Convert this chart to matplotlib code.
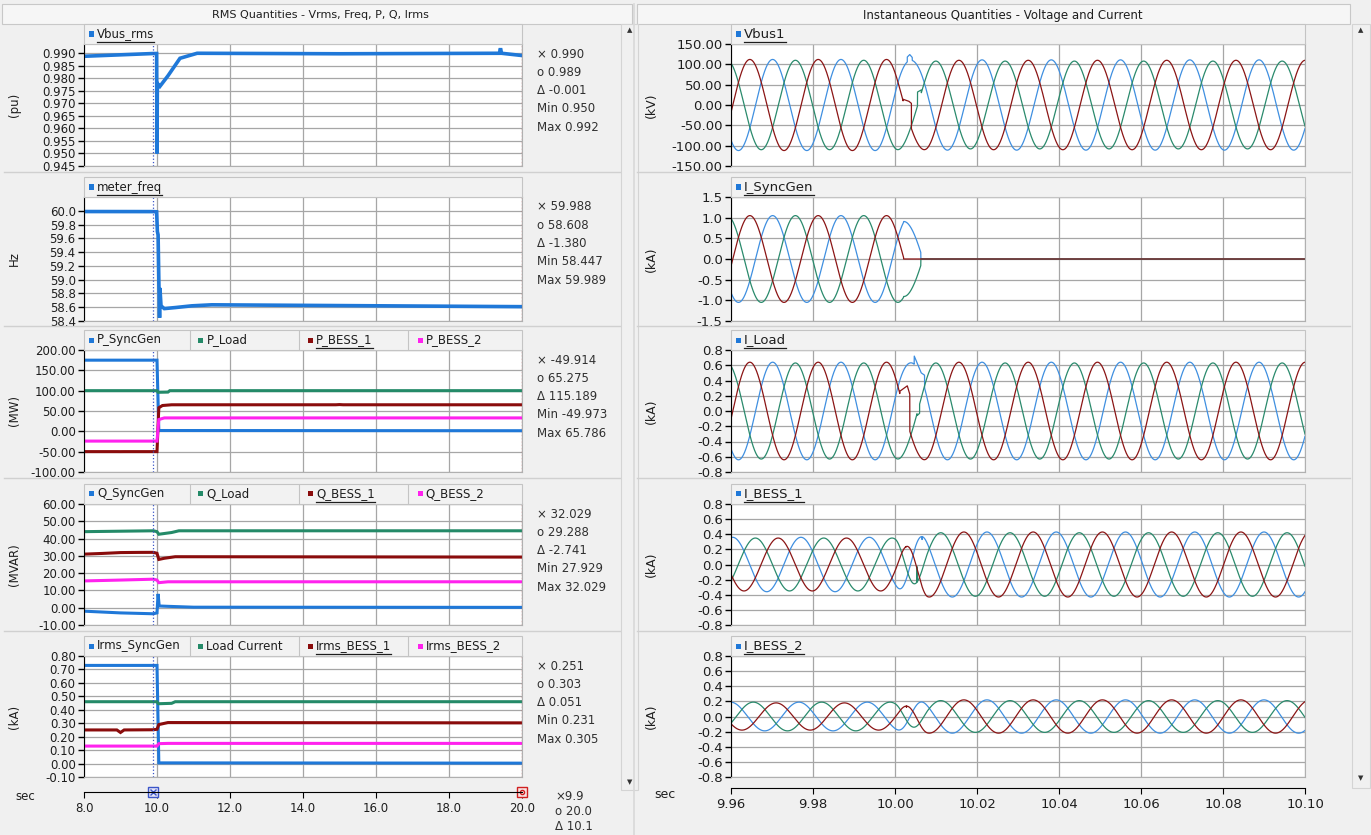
import numpy as np
import matplotlib
matplotlib.use("Agg")
import matplotlib.pyplot as plt
from matplotlib.patches import Rectangle
from matplotlib.lines import Line2D

# ---- RMS traces (time breakpoints in s) ----
t_vbus = [8.0, 9.9, 9.99, 10.0, 10.01, 10.08, 10.3, 10.63, 11.1, 15.0, 19.38, 19.41, 19.44, 20.0]
vbus_rms = [0.9888, 0.9899, 0.9899, 0.950, 0.978, 0.9768, 0.981, 0.988, 0.990, 0.9898, 0.990, 0.992, 0.990, 0.9891]

t_freq = [8.0, 9.9, 9.99, 10.01, 10.03, 10.05, 10.07, 10.08, 10.11, 10.2, 10.5, 10.95, 11.5, 20.0]
meter_freq = [59.989, 59.988, 59.985, 59.70, 59.65, 59.0, 58.447, 58.88, 58.62, 58.58, 58.595, 58.62, 58.635, 58.608]

t_p_sg = [8.0, 10.0, 10.05, 20.0]
p_syncgen = [175.0, 175.0, 2.0, 1.5]
t_p_load = [8.0, 10.0, 10.03, 10.3, 10.35, 20.0]
p_load = [100.0, 100.0, 96.0, 96.5, 100.0, 100.0]
t_p_b1 = [8.0, 8.9, 9.0, 9.1, 9.9, 10.0, 10.05, 10.15, 10.4, 14.9, 15.0, 15.1, 20.0]
p_bess_1 = [-49.9, -49.9, -49.973, -49.9, -49.914, -49.9, 58.0, 63.5, 65.3, 65.3, 65.786, 65.3, 65.275]
t_p_b2 = [8.0, 10.0, 10.05, 10.2, 20.0]
p_bess_2 = [-24.0, -24.0, 29.0, 33.0, 33.0]

t_q_sg = [8.0, 9.0, 9.9, 10.0, 10.03, 10.06, 10.3, 11.0, 20.0]
q_syncgen = [-2.0, -3.0, -3.5, -3.0, 8.0, 1.0, 0.8, 0.3, 0.2]
t_q_load = [8.0, 9.9, 10.0, 10.05, 10.4, 10.6, 20.0]
q_load = [44.0, 44.5, 44.0, 42.5, 43.5, 44.5, 44.5]
t_q_b1 = [8.0, 8.5, 9.0, 9.5, 9.9, 10.0, 10.05, 10.2, 10.5, 20.0]
q_bess_1 = [31.0, 31.4, 31.9, 32.0, 32.029, 31.5, 27.929, 28.6, 29.5, 29.288]
t_q_b2 = [8.0, 9.0, 9.9, 10.0, 10.05, 10.3, 20.0]
q_bess_2 = [15.5, 16.0, 16.5, 16.0, 14.5, 15.0, 15.0]

t_i_sg = [8.0, 10.0, 10.05, 20.0]
irms_syncgen = [0.73, 0.73, 0.005, 0.003]
t_i_load = [8.0, 10.0, 10.04, 10.4, 10.5, 20.0]
load_current = [0.46, 0.46, 0.445, 0.448, 0.46, 0.46]
t_i_b1 = [8.0, 8.9, 9.0, 9.1, 9.9, 10.0, 10.05, 10.3, 20.0]
irms_bess_1 = [0.25, 0.25, 0.231, 0.25, 0.2514, 0.255, 0.29, 0.305, 0.3026]
t_i_b2 = [8.0, 10.0, 10.05, 10.3, 20.0]
irms_bess_2 = [0.13, 0.13, 0.148, 0.15, 0.15]

CURSORS = [9.9, 20.0]
RMS_TICKS = [8.0, 10.0, 12.0, 14.0, 16.0, 18.0, 20.0]

# ---- instantaneous waveforms: phase amplitudes [a, b, c] and peak time of phase a ----
F_PRE, F_POST = 60.0, 59.2
EVENT = [10.000, 10.008]
vbus_amp_pre, vbus_amp_post = [112.0, 112.0, 110.0], [110.0, 111.0, 108.0]
vbus_peak_pre, vbus_peak_post = 9.9646, 10.0156
isg_amp = [1.05, 1.05, 1.05]
isg_peak = 9.9646
SG_OPEN = [10.0021, 10.0063]
iload_amp_pre, iload_amp_post = [0.64, 0.64, 0.63], [0.64, 0.64, 0.63]
iload_peak_pre, iload_peak_post = 9.9646, 10.0156
ib1_amp_pre, ib1_amp_post = [0.35, 0.36, 0.35], [0.43, 0.43, 0.42]
ib1_peak_pre, ib1_peak_post = 9.9715, 10.0168
ib2_amp_pre, ib2_amp_post = [0.18, 0.19, 0.19], [0.22, 0.22, 0.21]
ib2_peak_pre, ib2_peak_post = 9.9710, 10.0168

# kinks during the switching transient (time, value) per phase
vbus_kinks = {0: [(10.0020, 14), (10.0034, 9), (10.0040, 4)],
              1: [(10.0030, 118), (10.0036, 124), (10.0042, 117)],
              2: [(10.0055, 32), (10.0064, 37)]}
iload_kinks = {0: [(10.0012, 0.26), (10.0030, 0.33), (10.0036, 0.22)],
               1: [(10.0047, 0.72), (10.0064, 0.50), (10.0072, 0.47)],
               2: [(10.0054, -0.06), (10.0060, -0.03)]}
ib1_kinks = {0: [(10.0027, 0.23)], 1: [(10.0066, 0.33)], 2: [(10.0054, -0.03)]}
ib2_kinks = {0: [(10.0028, 0.12)], 1: [], 2: []}
WAVE_TICKS = [9.96, 9.98, 10.00, 10.02, 10.04, 10.06, 10.08, 10.10]

C_BLUE, C_GREEN, C_RED, C_MAG = "#1f78d8", "#248a68", "#8a0c0c", "#ff22ee"
W_BLUE, W_GREEN, W_RED = "#3f8fe0", "#2a8a6c", "#8b1515"
TEXT, GRID = "#1e1e1e", "#a6a6a6"

W, H = 1371, 835
fig = plt.figure(figsize=(W / 100, H / 100), dpi=100, facecolor="#f0f0f0")


def box(l, t, r, b):
    return [l / W, 1 - b / H, (r - l) / W, (b - t) / H]


def frect(l, t, r, b, **kw):
    fig.patches.append(Rectangle((l / W, 1 - b / H), (r - l) / W, (b - t) / H,
                                 transform=fig.transFigure, **kw))


def ftext(x, y, s, **kw):
    return fig.text(x / W, 1 - y / H, s, **kw)


def fline(xs, ys, **kw):
    fig.add_artist(Line2D([x / W for x in xs], [1 - y / H for y in ys],
                          transform=fig.transFigure, **kw))


underlined = []

ROW_TOP = [44, 197, 350, 504, 656]
ROW_BOT = [166, 321, 472, 625, 777]
LX0, LX1 = 84, 522
RX0, RX1 = 731, 1305

# window chrome
frect(2, 4, 632, 24, facecolor="#f6f6f6", edgecolor="#c8c8c8", lw=0.8)
frect(637, 4, 1350, 24, facecolor="#f6f6f6", edgecolor="#c8c8c8", lw=0.8)
ftext(320, 15, "RMS Quantities - Vrms, Freq, P, Q, Irms", ha="center", va="center",
      fontsize=8, color=TEXT)
ftext(1003, 15, "Instantaneous Quantities - Voltage and Current", ha="center", va="center",
      fontsize=8.5, color=TEXT)
frect(621, 24, 638, 790, facecolor="#f0f0f0", edgecolor="#d4d4d4", lw=0.8)
frect(1352, 24, 1370, 788, facecolor="#f0f0f0", edgecolor="#d4d4d4", lw=0.8)
for x, y, s in [(630, 30, "\u25b2"), (630, 782, "\u25bc"), (1361, 30, "\u25b2"), (1361, 778, "\u25bc")]:
    ftext(x, y, s, ha="center", va="center", fontsize=5, color="#333333")
for y in [172, 326, 478, 631]:
    fline([4, 620], [y, y], color="#d0d0d0", lw=1)
    fline([637, 1350], [y, y], color="#d0d0d0", lw=1)
fline([634, 634], [4, 835], color="#d8d8d8", lw=1.2)


def legend_strip(l, r, top, names, colors, selected, fs):
    frect(l, top - 20, r, top, facecolor="#f2f2f2", edgecolor="#c4c4c4", lw=0.8)
    cell = (r - l) / 4
    for k, (name, col) in enumerate(zip(names, colors)):
        x = l + k * cell
        if k > 0:
            fline([x - 4, x - 4], [top - 19, top - 1], color="#c4c4c4", lw=0.8)
        frect(x + 5, top - 12.5, x + 10, top - 7.5, facecolor=col, edgecolor="none")
        t = ftext(x + 13, top - 10, name, ha="left", va="center", fontsize=fs, color=TEXT)
        if k == selected:
            underlined.append(t)


def rms_panel(i, series, names, colors, ylim, yticks, fmt, ylabel, sel, lw=2.2):
    ax = fig.add_axes(box(LX0, ROW_TOP[i], LX1, ROW_BOT[i]))
    ax.set_facecolor("white")
    ax.set_xlim(8.0, 20.0)
    ax.set_ylim(*ylim)
    ax.set_xticks(RMS_TICKS)
    ax.set_xticklabels([])
    ax.set_yticks(yticks)
    ax.set_yticklabels([fmt.format(v) for v in yticks], fontsize=8.5, color=TEXT)
    ax.tick_params(axis="x", length=0)
    ax.tick_params(axis="y", length=4, width=1, pad=2, direction="out")
    ax.grid(True, color=GRID, lw=0.9)
    for s in ["top", "right", "bottom"]:
        ax.spines[s].set_color("#b0b0b0")
        ax.spines[s].set_linewidth(0.8)
    ax.spines["left"].set_color("black")
    for t, v, c in series:
        ax.plot(t, v, color=c, lw=lw, solid_joinstyle="miter")
    ax.axvline(CURSORS[0], color="#3a55c8", ls=":", lw=0.9)
    ax.axvline(CURSORS[1], color="#d02020", ls=":", lw=0.9)
    legend_strip(LX0, LX1, ROW_TOP[i], names, colors, sel, 8.5)
    ftext(14, (ROW_TOP[i] + ROW_BOT[i]) / 2, ylabel, rotation=90, ha="center", va="center",
          fontsize=8.5, color=TEXT)
    # cursor readout of the selected trace
    t_s, v_s, _ = series[sel]
    a = float(np.interp(CURSORS[0], t_s, v_s))
    b = float(np.interp(CURSORS[1], t_s, v_s))
    rows = ["\u00d7 %.3f" % a, "o %.3f" % b, "\u0394 %.3f" % (b - a),
            "Min %.3f" % min(v_s), "Max %.3f" % max(v_s)]
    for k, s in enumerate(rows):
        ftext(537, ROW_TOP[i] + 10 + 18.3 * k, s, ha="left", va="center", fontsize=8.5, color="#303030")
    return ax


rms_panel(0, [(t_vbus, vbus_rms, C_BLUE)], ["Vbus_rms"], [C_BLUE], (0.945, 0.9937),
          [0.945 + 0.005 * k for k in range(10)], "{:.3f}", "(pu)", 0, lw=2.6)
rms_panel(1, [(t_freq, meter_freq, C_BLUE)], ["meter_freq"], [C_BLUE], (58.4, 60.2),
          [58.4 + 0.2 * k for k in range(9)], "{:.1f}", "Hz", 0, lw=2.6)
rms_panel(2, [(t_p_sg, p_syncgen, C_BLUE), (t_p_load, p_load, C_GREEN),
              (t_p_b1, p_bess_1, C_RED), (t_p_b2, p_bess_2, C_MAG)],
          ["P_SyncGen", "P_Load", "P_BESS_1", "P_BESS_2"], [C_BLUE, C_GREEN, C_RED, C_MAG],
          (-100, 200), [-100, -50, 0, 50, 100, 150, 200], "{:.2f}", "(MW)", 2)
rms_panel(3, [(t_q_sg, q_syncgen, C_BLUE), (t_q_load, q_load, C_GREEN),
              (t_q_b1, q_bess_1, C_RED), (t_q_b2, q_bess_2, C_MAG)],
          ["Q_SyncGen", "Q_Load", "Q_BESS_1", "Q_BESS_2"], [C_BLUE, C_GREEN, C_RED, C_MAG],
          (-10, 60), [-10, 0, 10, 20, 30, 40, 50, 60], "{:.2f}", "(MVAR)", 2)
rms_panel(4, [(t_i_sg, irms_syncgen, C_BLUE), (t_i_load, load_current, C_GREEN),
              (t_i_b1, irms_bess_1, C_RED), (t_i_b2, irms_bess_2, C_MAG)],
          ["Irms_SyncGen", "Load Current", "Irms_BESS_1", "Irms_BESS_2"],
          [C_BLUE, C_GREEN, C_RED, C_MAG],
          (-0.10, 0.80), [-0.1 + 0.1 * k for k in range(10)], "{:.2f}", "(kA)", 2)

# shared time axis of the rms side
xa = fig.add_axes(box(LX0, 791, LX1, 792))
xa.set_xlim(8.0, 20.0)
xa.set_yticks([])
xa.set_xticks(RMS_TICKS)
xa.set_xticklabels(["%.1f" % v for v in RMS_TICKS], fontsize=8.5, color=TEXT)
xa.tick_params(axis="x", length=4, pad=3)
for s in ["top", "left", "right"]:
    xa.spines[s].set_visible(False)
xa.set_facecolor("none")
xa.plot([CURSORS[0]], [-14], marker="s", ms=7, mfc="#e4e4f8", mec="#3a55c8", clip_on=False)
xa.plot([CURSORS[0]], [-14], marker="x", ms=4, mec="#3a55c8", clip_on=False)
xa.plot([CURSORS[1]], [-14], marker="s", ms=7, mfc="#f8e4e4", mec="#d02020", clip_on=False)
xa.plot([CURSORS[1]], [-14], marker="o", ms=3, mfc="none", mec="#d02020", clip_on=False)
ftext(25, 797, "sec", ha="center", va="center", fontsize=8.5, color=TEXT)
for k, s in enumerate(["\u00d7%.1f" % CURSORS[0], "o %.1f" % CURSORS[1],
                       "\u0394 %.1f" % (CURSORS[1] - CURSORS[0])]):
    ftext(555, 797 + 14.5 * k, s, ha="left", va="center", fontsize=8.5, color="#303030")

# ---- instantaneous side ----
T = np.linspace(9.96, 10.10, 4000)


def phase_set(amp_pre, peak_pre, amp_post, peak_post):
    w = np.clip((T - EVENT[0]) / (EVENT[1] - EVENT[0]), 0, 1)
    w = w * w * (3 - 2 * w)
    out = []
    for k in range(3):
        pre = amp_pre[k] * np.cos(2 * np.pi * F_PRE * (T - peak_pre) - 2 * np.pi * k / 3)
        post = amp_post[k] * np.cos(2 * np.pi * F_POST * (T - peak_post) - 2 * np.pi * k / 3)
        out.append((1 - w) * pre + w * post)
    return out


def splice(y, pts):
    if not pts:
        return T, y
    ts = np.array([p[0] for p in pts])
    vs = np.array([p[1] for p in pts])
    keep = (T < ts[0]) | (T > ts[-1])
    tt = np.concatenate([T[keep], ts])
    yy = np.concatenate([y[keep], vs])
    order = np.argsort(tt)
    return tt[order], yy[order]


def wave_panel(i, phases, kinks, name, ylim, yticks, fmt, ylabel):
    ax = fig.add_axes(box(RX0, ROW_TOP[i], RX1, ROW_BOT[i]))
    ax.set_facecolor("white")
    ax.set_xlim(9.96, 10.10)
    ax.set_ylim(*ylim)
    ax.set_xticks(WAVE_TICKS)
    ax.set_xticklabels([])
    ax.set_yticks(yticks)
    ax.set_yticklabels([fmt.format(v) for v in yticks], fontsize=9.5, color=TEXT)
    ax.tick_params(axis="x", length=0)
    ax.tick_params(axis="y", length=4, width=1, pad=2)
    ax.grid(True, color=GRID, lw=0.9)
    for s in ["top", "right", "bottom"]:
        ax.spines[s].set_color("#b0b0b0")
        ax.spines[s].set_linewidth(0.8)
    ax.spines["left"].set_color("black")
    for k in [1, 2, 0]:
        tt, yy = splice(phases[k], kinks.get(k, []))
        ax.plot(tt, yy, color=[W_RED, W_BLUE, W_GREEN][k], lw=0.9)
    legend_strip(RX0, RX1, ROW_TOP[i], [name], [C_BLUE], 0, 9.5)
    ftext(651, (ROW_TOP[i] + ROW_BOT[i]) / 2, ylabel, rotation=90, ha="center", va="center",
          fontsize=9, color=TEXT)
    return ax


vb = phase_set(vbus_amp_pre, vbus_peak_pre, vbus_amp_post, vbus_peak_post)
wave_panel(0, vb, vbus_kinks, "Vbus1", (-150, 150), [-150, -100, -50, 0, 50, 100, 150],
           "{:.2f}", "(kV)")

r, b, g = phase_set(isg_amp, isg_peak, isg_amp, isg_peak)
bg = (b - g) / 2
b = np.where(T < SG_OPEN[0], b, np.where(T < SG_OPEN[1], bg, 0.0))
g = np.where(T < SG_OPEN[0], g, np.where(T < SG_OPEN[1], -bg, 0.0))
r = np.where(T < SG_OPEN[0], r, 0.0)
wave_panel(1, [r, b, g], {}, "I_SyncGen", (-1.5, 1.5), [-1.5, -1.0, -0.5, 0, 0.5, 1.0, 1.5],
           "{:.1f}", "(kA)")

il = phase_set(iload_amp_pre, iload_peak_pre, iload_amp_post, iload_peak_post)
KA_TICKS = [-0.8, -0.6, -0.4, -0.2, 0.0, 0.2, 0.4, 0.6, 0.8]
wave_panel(2, il, iload_kinks, "I_Load", (-0.8, 0.8), KA_TICKS, "{:.1f}", "(kA)")
i1 = phase_set(ib1_amp_pre, ib1_peak_pre, ib1_amp_post, ib1_peak_post)
wave_panel(3, i1, ib1_kinks, "I_BESS_1", (-0.8, 0.8), KA_TICKS, "{:.1f}", "(kA)")
i2 = phase_set(ib2_amp_pre, ib2_peak_pre, ib2_amp_post, ib2_peak_post)
wave_panel(4, i2, ib2_kinks, "I_BESS_2", (-0.8, 0.8), KA_TICKS, "{:.1f}", "(kA)")

xb = fig.add_axes(box(RX0, 787, RX1, 788))
xb.set_xlim(9.96, 10.10)
xb.set_yticks([])
xb.set_xticks(WAVE_TICKS)
xb.set_xticklabels(["%.2f" % v for v in WAVE_TICKS], fontsize=9.5, color=TEXT)
xb.tick_params(axis="x", length=4, pad=3)
for s in ["top", "left", "right"]:
    xb.spines[s].set_visible(False)
xb.set_facecolor("none")
ftext(665, 795, "sec", ha="center", va="center", fontsize=9, color=TEXT)

# underline the active legend entries
fig.canvas.draw()
rend = fig.canvas.get_renderer()
for t in underlined:
    bb = t.get_window_extent(rend)
    fig.add_artist(Line2D([bb.x0 / W, bb.x1 / W], [(bb.y0 - 1) / H] * 2,
                          transform=fig.transFigure, color=TEXT, lw=0.9))

fig.savefig("out.png", dpi=100, facecolor=fig.get_facecolor())
